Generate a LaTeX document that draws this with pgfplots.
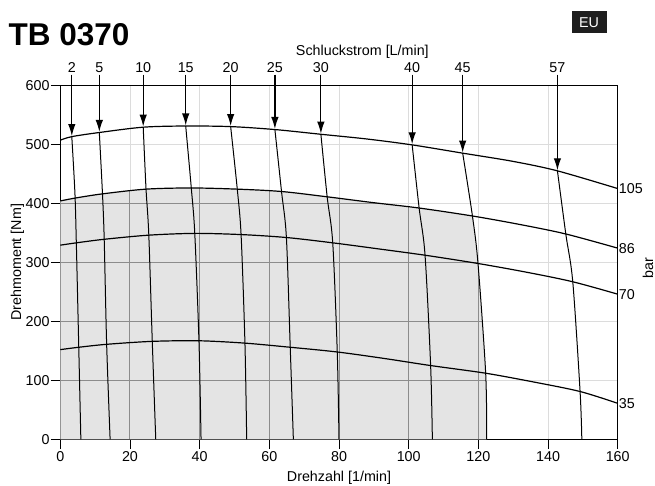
\documentclass[border=0pt]{standalone}
\usepackage{pgfplots}
\pgfplotsset{compat=1.18}
\usepackage{fontspec}
\setmainfont{Liberation Sans}
\usetikzlibrary{arrows.meta}
\definecolor{lightgrid}{HTML}{DCDCDC}
\definecolor{darkgrid}{HTML}{8C8C8C}
\definecolor{shade}{HTML}{E4E4E4}
\definecolor{eubox}{HTML}{1E1E1E}
\newcommand{\lf}{\fontsize{14.3}{16}\selectfont}
\tikzset{
  nl/.style={font=\lf, anchor=center, inner sep=0pt},
  pl/.style={font=\lf, anchor=west, inner sep=1pt},
}
\pgfplotsset{
  dg/.style={darkgrid, line width=1pt, forget plot},
  pc/.style={black, line width=1.2pt, smooth, tension=0.5},
  fl/.style={black, line width=1pt, smooth, tension=0.5},
  ar/.style={black, line width=1.2pt, -{Latex[length=12pt,width=7.5pt]}},
}
\begin{document}
\begin{tikzpicture}
\useasboundingbox (-60.3pt,-45.7pt) rectangle (594.7pt,439.3pt);
\begin{axis}[
  at={(0pt,0pt)}, anchor=south west,
  scale only axis, width=557.4pt, height=354pt,
  xmin=0, xmax=160, ymin=0, ymax=600,
  xtick={0,20,...,160}, ytick={0,100,...,600},
  tick pos=left, tick align=outside, major tick length=9.5pt,
  tick style={black, line width=0.7pt},
  grid=major, major grid style={lightgrid, line width=0.8pt},
  axis line style={black, line width=0.9pt},
  /pgf/number format/assume math mode=true,
  ticklabel style={font=\lf},
  yticklabel style={inner sep=1pt},
  xticklabel style={inner sep=3pt},
  xlabel={Drehzahl [1/min]}, ylabel={Drehmoment [Nm]},
  label style={font=\lf},
  xlabel style={at={(axis description cs:0.5,0)}, anchor=center, yshift=-38.7pt},
  ylabel style={at={(axis description cs:0,0.5)}, anchor=center, rotate=0, yshift=42.8pt},
  clip=false,
]
% shaded working region
\addplot[draw=none, fill=shade] coordinates {
 (0,0) (0,404) (4.4,409) (12.1,416) (24.6,424) (37.6,426) (50.8,424) (63.5,420)
 (76.6,411) (90,401) (103,392) (118.3,378.5) (119.9,298) (122.1,112) (122.4,0)} -- cycle;
% darker grid inside region
\addplot[dg] coordinates {(20,0) (20,421)};
\addplot[dg] coordinates {(40,0) (40,426)};
\addplot[dg] coordinates {(60,0) (60,421)};
\addplot[dg] coordinates {(80,0) (80,409)};
\addplot[dg] coordinates {(100,0) (100,394)};
\addplot[dg] coordinates {(120,0) (120,290)};
\addplot[dg] coordinates {(0,100) (122.2,100)};
\addplot[dg] coordinates {(0,200) (121.0,200)};
\addplot[dg] coordinates {(0,300) (119.9,300)};
\addplot[dg] coordinates {(0,400) (91.4,400)};
% pressure curves
\addplot[pc] coordinates {(0,507) (3.3,513) (11.2,520) (23.8,529) (36,531) (48.9,530) (61.6,525) (74.8,517) (88,509) (101,499) (115.5,485) (130,471) (142.7,455) (160,425)};
\addplot[pc] coordinates {(0,404) (4.4,409) (12.1,416) (24.6,424) (37.6,426) (50.8,424) (63.5,420) (76.6,411) (90,401) (103,392) (118.3,378.5) (132,364) (145.1,348) (160,324)};
\addplot[pc] coordinates {(0,329) (4.6,333) (12.6,339) (25.4,346) (38.6,349) (51.9,347) (64.9,342) (78.2,333) (91,323) (104.7,312) (119.9,298) (134,283) (147.1,267) (160,246)};
\addplot[pc] coordinates {(0,152) (5.3,156) (13.3,161) (26.4,166) (39.8,167) (53,163) (66,156) (79.5,148) (93,137) (106.3,125) (122.1,112) (136,97) (149.2,81) (160,61)};
% flow lines
\addplot[fl] coordinates {(3.3,513) (4.2,417) (4.6,333) (5.3,156) (5.9,0)};
\addplot[fl] coordinates {(11.2,520) (12.1,417) (12.6,340) (13.3,162) (14.3,0)};
\addplot[fl] coordinates {(23.8,529) (24.6,425) (25.4,347) (26.4,166) (27.4,0)};
\addplot[fl] coordinates {(36.0,531) (37.6,426) (38.6,349) (39.8,167) (40.4,0)};
\addplot[fl] coordinates {(48.9,530) (50.8,424) (51.9,346) (53.0,163) (53.5,0)};
\addplot[fl] coordinates {(61.6,525) (63.5,420) (64.9,342) (66.0,156) (66.9,0)};
\addplot[fl] coordinates {(74.8,517) (76.6,411) (78.2,333) (79.5,148) (80.0,0)};
\addplot[fl] coordinates {(101.0,499) (103.0,392) (104.7,312) (106.3,125) (106.8,0)};
\addplot[fl] coordinates {(115.5,485) (118.3,378.5) (119.9,298) (122.1,112) (122.4,0)};
\addplot[fl] coordinates {(142.7,455) (145.1,348) (147.1,267) (149.2,81) (149.7,0)};
% arrows
\addplot[ar] coordinates {(3.3,618) (3.3,514)};
\addplot[ar] coordinates {(11.2,618) (11.2,521)};
\addplot[ar] coordinates {(23.8,618) (23.8,530)};
\addplot[ar] coordinates {(36.0,618) (36.0,532)};
\addplot[ar] coordinates {(48.9,618) (48.9,531)};
\addplot[ar] coordinates {(61.6,618) (61.6,526)};
\addplot[ar] coordinates {(74.8,618) (74.8,518)};
\addplot[ar] coordinates {(101.0,618) (101.0,500)};
\addplot[ar] coordinates {(115.5,618) (115.5,486)};
\addplot[ar] coordinates {(142.7,618) (142.7,456)};
% flow labels
\node[nl] at (axis cs:3.3,630) {2};
\node[nl] at (axis cs:11.2,630) {5};
\node[nl] at (axis cs:23.8,630) {10};
\node[nl] at (axis cs:36.0,630) {15};
\node[nl] at (axis cs:48.9,630) {20};
\node[nl] at (axis cs:61.6,630) {25};
\node[nl] at (axis cs:74.8,630) {30};
\node[nl] at (axis cs:101.0,630) {40};
\node[nl] at (axis cs:115.5,630) {45};
\node[nl] at (axis cs:142.7,630) {57};
\node[nl] at (axis cs:86.7,657) {Schluckstrom [L/min]};
% pressure labels
\node[pl] at (axis cs:160,425) {105};
\node[pl] at (axis cs:160,324) {86};
\node[pl] at (axis cs:160,246) {70};
\node[pl] at (axis cs:160,61) {35};
\node[font=\lf, rotate=90, anchor=center, inner sep=0pt] at (axis cs:168.7,290) {bar};
% title and badge
\node[anchor=base west, inner sep=0pt, font=\fontsize{31.5}{32}\selectfont\bfseries] at (axis cs:-14.9,668.3) {TB 0370};
\node[fill=eubox, text=white, minimum width=35pt, minimum height=22pt, inner sep=0pt, font=\lf] at (axis cs:151.8,707) {EU};
\end{axis}
\end{tikzpicture}
\end{document}
